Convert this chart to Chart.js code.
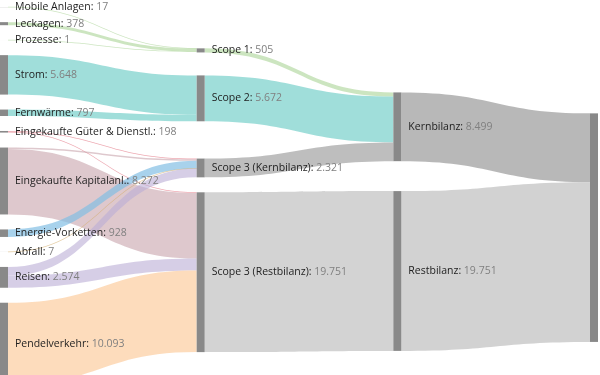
<!DOCTYPE html>
<html>
<head>
<meta charset="utf-8">
<script src="https://cdn.jsdelivr.net/npm/chart.js@4.4.1/dist/chart.umd.min.js"></script>
<style>
  html, body { margin: 0; padding: 0; background: #fff; }
  #wrap { width: 600px; height: 375px; }
</style>
</head>
<body>
<div id="wrap"><canvas id="chart"></canvas></div>
<script>
"use strict";

// nodes and the value shown in their label
var nodeNames = ['Mobile Anlagen', 'Leckagen', 'Prozesse', 'Strom', 'Fernwärme',
  'Eingekaufte Güter & Dienstl.', 'Eingekaufte Kapitalanl.', 'Energie-Vorketten', 'Abfall',
  'Reisen', 'Pendelverkehr', 'Scope 1', 'Scope 2', 'Scope 3 (Kernbilanz)', 'Scope 3 (Restbilanz)',
  'Kernbilanz', 'Restbilanz', 'Gesamt'];
var nodeValues = [17, 378, 1, 5648, 797, 198, 8272, 928, 7, 2574, 10093,
  505, 5672, 2321, 19751, 8499, 19751, 28250];

// flows
var flowFrom = ['Mobile Anlagen', 'Leckagen', 'Prozesse', 'Strom', 'Fernwärme',
  'Eingekaufte Güter & Dienstl.', 'Eingekaufte Güter & Dienstl.',
  'Eingekaufte Kapitalanl.', 'Eingekaufte Kapitalanl.', 'Energie-Vorketten', 'Abfall',
  'Reisen', 'Reisen', 'Pendelverkehr',
  'Scope 1', 'Scope 2', 'Scope 3 (Kernbilanz)', 'Scope 3 (Restbilanz)',
  'Kernbilanz', 'Restbilanz'];
var flowTo = ['Scope 1', 'Scope 1', 'Scope 1', 'Scope 2', 'Scope 2',
  'Scope 3 (Kernbilanz)', 'Scope 3 (Restbilanz)',
  'Scope 3 (Kernbilanz)', 'Scope 3 (Restbilanz)', 'Scope 3 (Kernbilanz)', 'Scope 3 (Kernbilanz)',
  'Scope 3 (Kernbilanz)', 'Scope 3 (Restbilanz)', 'Scope 3 (Restbilanz)',
  'Kernbilanz', 'Kernbilanz', 'Kernbilanz', 'Restbilanz',
  'Gesamt', 'Gesamt'];
var flowValues = [17, 378, 1, 4875, 797,
  100, 98,
  186, 8086, 928, 7,
  1100, 1474, 10093,
  505, 5672, 2321, 19751,
  8499, 19751];

// link colour by source node
var linkColors = {
  'Mobile Anlagen': 'rgba(170,212,150,0.6)',
  'Leckagen': 'rgba(170,212,150,0.6)',
  'Prozesse': 'rgba(170,212,150,0.6)',
  'Strom': 'rgba(128,211,206,0.75)',
  'Fernwärme': 'rgba(128,211,206,0.75)',
  'Eingekaufte Güter & Dienstl.': 'rgba(225,110,125,0.6)',
  'Eingekaufte Kapitalanl.': 'rgba(200,163,172,0.6)',
  'Energie-Vorketten': 'rgba(131,191,228,0.7)',
  'Abfall': 'rgba(210,170,100,0.6)',
  'Reisen': 'rgba(187,173,213,0.6)',
  'Pendelverkehr': 'rgba(252,205,159,0.7)',
  'Scope 1': 'rgba(170,212,150,0.6)',
  'Scope 2': 'rgba(128,211,206,0.75)',
  'Scope 3 (Kernbilanz)': 'rgba(174,174,174,0.8)',
  'Scope 3 (Restbilanz)': 'rgba(200,200,200,0.8)',
  'Kernbilanz': 'rgba(166,166,166,0.8)',
  'Restbilanz': 'rgba(199,199,199,0.8)'
};
var nodeColor = '#898989';
var nodeWidth = 8;
var nodePadding = 1850;   // gap between nodes, in value units
var layoutHeight = 42650; // band the relaxation keeps nodes in, in value units

function fmt(v) {
  return String(v).replace(/\B(?=(\d{3})+(?!\d))/g, '.');
}

// d3-sankey style layout, computed in value units (1 unit of value = 1 unit of height)
function sankeyLayout(names, from, to, values, pad, height, iterations) {
  var nodes = names.map(function (name, i) {
    return { index: i, name: name, sourceLinks: [], targetLinks: [] };
  });
  var links = values.map(function (v, i) {
    var l = { index: i, source: nodes[names.indexOf(from[i])], target: nodes[names.indexOf(to[i])], value: v };
    l.source.sourceLinks.push(l);
    l.target.targetLinks.push(l);
    return l;
  });
  function sumLinks(arr) { return arr.reduce(function (s, l) { return s + l.value; }, 0); }
  nodes.forEach(function (n) { n.value = Math.max(sumLinks(n.sourceLinks), sumLinks(n.targetLinks)); });

  var current = nodes.slice(), depth = 0;
  while (current.length) {
    var next = [];
    current.forEach(function (n) {
      n.depth = depth;
      n.sourceLinks.forEach(function (l) { if (next.indexOf(l.target) < 0) next.push(l.target); });
    });
    current = next;
    depth++;
  }
  var columns = [];
  for (var c = 0; c < depth; c++) columns.push([]);
  nodes.forEach(function (n) {
    n.layer = n.sourceLinks.length ? n.depth : depth - 1;
    columns[n.layer].push(n);
  });

  var y0 = 0, y1 = height, py = pad;
  links.forEach(function (l) { l.width = l.value; });

  function byBreadth(a, b) { return a.y0 - b.y0; }
  function bySource(a, b) { return byBreadth(a.source, b.source) || a.index - b.index; }
  function byTarget(a, b) { return byBreadth(a.target, b.target) || a.index - b.index; }
  function reorderLinks(col) {
    col.forEach(function (n) { n.sourceLinks.sort(byTarget); n.targetLinks.sort(bySource); });
  }
  function reorderNodeLinks(n) {
    n.targetLinks.forEach(function (l) { l.source.sourceLinks.sort(byTarget); });
    n.sourceLinks.forEach(function (l) { l.target.targetLinks.sort(bySource); });
  }
  function targetTop(source, target) {
    var y = source.y0 - (source.sourceLinks.length - 1) * py / 2;
    for (var i = 0; i < source.sourceLinks.length; i++) {
      if (source.sourceLinks[i].target === target) break;
      y += source.sourceLinks[i].width + py;
    }
    for (var j = 0; j < target.targetLinks.length; j++) {
      if (target.targetLinks[j].source === source) break;
      y -= target.targetLinks[j].width;
    }
    return y;
  }
  function sourceTop(source, target) {
    var y = target.y0 - (target.targetLinks.length - 1) * py / 2;
    for (var i = 0; i < target.targetLinks.length; i++) {
      if (target.targetLinks[i].source === source) break;
      y += target.targetLinks[i].width + py;
    }
    for (var j = 0; j < source.sourceLinks.length; j++) {
      if (source.sourceLinks[j].target === target) break;
      y -= source.sourceLinks[j].width;
    }
    return y;
  }
  function pushDown(col, y, i, alpha) {
    for (; i < col.length; i++) {
      var d = (y - col[i].y0) * alpha;
      if (d > 1e-6) { col[i].y0 += d; col[i].y1 += d; }
      y = col[i].y1 + py;
    }
  }
  function pushUp(col, y, i, alpha) {
    for (; i >= 0; i--) {
      var d = (col[i].y1 - y) * alpha;
      if (d > 1e-6) { col[i].y0 -= d; col[i].y1 -= d; }
      y = col[i].y0 - py;
    }
  }
  function resolveCollisions(col, alpha) {
    var i = col.length >> 1, subject = col[i];
    pushUp(col, subject.y0 - py, i - 1, alpha);
    pushDown(col, subject.y1 + py, i + 1, alpha);
    pushUp(col, y1, col.length - 1, alpha);
    pushDown(col, y0, 0, alpha);
  }

  columns.forEach(function (col) {
    var y = y0;
    col.forEach(function (n) {
      n.y0 = y;
      n.y1 = y + n.value;
      y = n.y1 + py;
    });
    var shift = Math.max(0, (y1 - y + py) / (col.length + 1));
    col.forEach(function (n, i) { n.y0 += shift * (i + 1); n.y1 += shift * (i + 1); });
    reorderLinks(col);
  });

  for (var it = 0; it < iterations; it++) {
    var alpha = Math.pow(0.99, it);
    var beta = Math.max(1 - alpha, (it + 1) / iterations);
    for (var r = columns.length - 2; r >= 0; r--) {
      columns[r].forEach(function (s) {
        var y = 0, w = 0;
        s.sourceLinks.forEach(function (l) {
          var v = l.value * (l.target.layer - s.layer);
          y += sourceTop(s, l.target) * v;
          w += v;
        });
        if (!(w > 0)) return;
        var d = (y / w - s.y0) * alpha;
        s.y0 += d; s.y1 += d;
        reorderNodeLinks(s);
      });
      resolveCollisions(columns[r], beta);
    }
    for (var q = 1; q < columns.length; q++) {
      columns[q].forEach(function (t) {
        var y = 0, w = 0;
        t.targetLinks.forEach(function (l) {
          var v = l.value * (t.layer - l.source.layer);
          y += targetTop(l.source, t) * v;
          w += v;
        });
        if (!(w > 0)) return;
        var d = (y / w - t.y0) * alpha;
        t.y0 += d; t.y1 += d;
        reorderNodeLinks(t);
      });
      resolveCollisions(columns[q], beta);
    }
  }

  nodes.forEach(function (n) {
    var a = n.y0, b = n.y0;
    n.sourceLinks.forEach(function (l) { l.y0 = a + l.width / 2; a += l.width; });
    n.targetLinks.forEach(function (l) { l.y1 = b + l.width / 2; b += l.width; });
  });
  return { nodes: nodes, links: links, columns: columns.length, height: y1 };
}

var graph = sankeyLayout(nodeNames, flowFrom, flowTo, flowValues, nodePadding, layoutHeight, 300);

var sankeyPlugin = {
  id: 'sankeyDraw',
  afterDatasetsDraw: function (chart) {
    var ctx = chart.ctx, xs = chart.scales.x, ys = chart.scales.y;
    function yp(v) { return ys.getPixelForValue(v); }
    ctx.save();
    graph.links.forEach(function (l) {
      var x0 = xs.getPixelForValue(l.source.layer) + nodeWidth;
      var x1 = xs.getPixelForValue(l.target.layer);
      var xm = (x0 + x1) / 2;
      var h = Math.max(yp(l.width) - yp(0), 0.8) / 2;
      var a = yp(l.y0), b = yp(l.y1);
      ctx.beginPath();
      ctx.moveTo(x0, a - h);
      ctx.bezierCurveTo(xm, a - h, xm, b - h, x1, b - h);
      ctx.lineTo(x1, b + h);
      ctx.bezierCurveTo(xm, b + h, xm, a + h, x0, a + h);
      ctx.closePath();
      ctx.fillStyle = linkColors[l.source.name];
      ctx.fill();
    });
    ctx.fillStyle = nodeColor;
    graph.nodes.forEach(function (n) {
      var x = xs.getPixelForValue(n.layer);
      ctx.fillRect(x, yp(n.y0), nodeWidth, yp(n.y1) - yp(n.y0));
    });
    ctx.font = '10.5px "Open Sans"';
    ctx.textBaseline = 'middle';
    graph.nodes.forEach(function (n) {
      var x = xs.getPixelForValue(n.layer) + nodeWidth + 7;
      if (x > chart.width - 30) return;
      var y = yp((n.y0 + n.y1) / 2);
      var head = n.name + ': ';
      ctx.fillStyle = '#1e1e1e';
      ctx.fillText(head, x, y);
      ctx.fillStyle = '#808080';
      ctx.fillText(fmt(nodeValues[n.index]), x + ctx.measureText(head).width, y);
    });
    ctx.restore();
  }
};

new Chart(document.getElementById('chart'), {
  type: 'scatter',
  data: { datasets: [{ data: [] }] },
  options: {
    responsive: true,
    maintainAspectRatio: false,
    animation: false,
    layout: { padding: { left: 0, right: 10, top: 0, bottom: 0 } },
    plugins: { legend: { display: false }, tooltip: { enabled: false } },
    scales: {
      x: { type: 'linear', min: 0, max: graph.columns - 1, display: false },
      y: { type: 'linear', reverse: true, min: -870, max: 45480, display: false }
    }
  },
  plugins: [sankeyPlugin]
});
</script>
</body>
</html>
